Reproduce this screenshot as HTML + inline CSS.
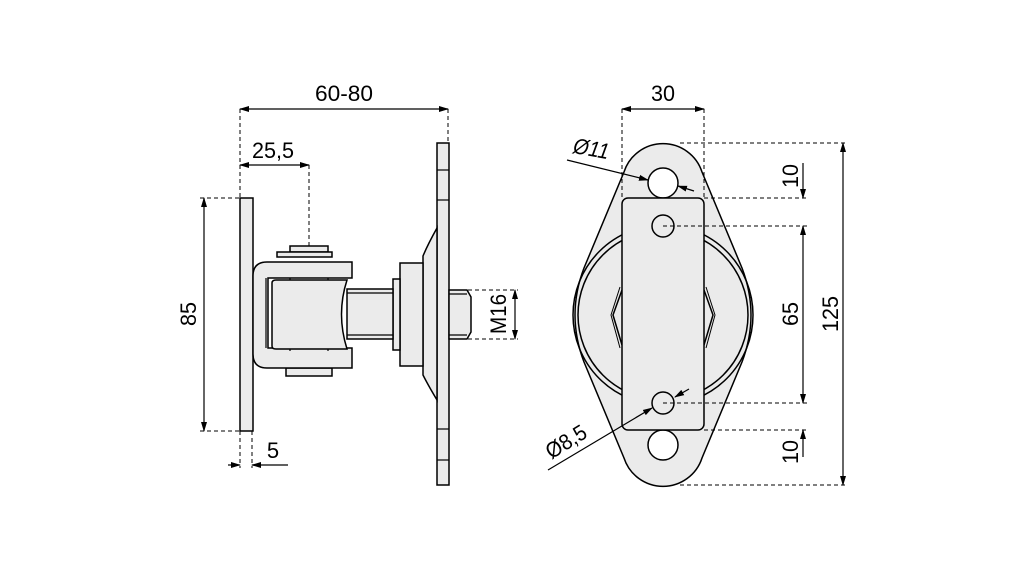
<!DOCTYPE html>
<html><head><style>html,body{margin:0;padding:0;background:#fff}svg{display:block}</style></head><body>
<svg width="1021" height="567" viewBox="0 0 1021 567" xmlns="http://www.w3.org/2000/svg">
<defs>
<marker id="a" markerWidth="10" markerHeight="8" refX="9" refY="4" orient="auto-start-reverse" markerUnits="userSpaceOnUse"><path d="M0,1 L10,4 L0,7 Z" fill="#000"/></marker>
</defs>
<g font-family="Liberation Sans, sans-serif" font-size="22" fill="#000">
<!-- LEFT VIEW -->
<g fill="#ebebeb" stroke="#000" stroke-width="1.5">
<rect x="240" y="198" width="13" height="233"/>
<rect x="437" y="143" width="12" height="342"/>
<path d="M423,256 Q428,244 437,228 L437,400 Q428,385 423,375 Z"/>
<rect x="400" y="263" width="23" height="103"/>
<rect x="393" y="279" width="7" height="71"/>
<rect x="347" y="289" width="46" height="50"/>
<path d="M449,290 L467,290 L471,297 L471,332 L467,339 L449,339 Z"/>
<rect x="290" y="246" width="38" height="6"/>
<rect x="277" y="252" width="55" height="5"/>
<rect x="286" y="368" width="46" height="8"/>
<path d="M253,276 Q253,262 267,262 L352,262 L352,278 L268,278 L268,348 L352,348 L352,368 L267,368 Q253,368 253,354 Z"/>
<path d="M272,283 Q272,280 276,280 L347,280 Q336,314 347,349 L276,349 Q272,349 272,346 Z"/>
</g>
<g stroke="#000" stroke-width="1.2" fill="none">
<line x1="437" y1="170" x2="449" y2="170"/><line x1="437" y1="200" x2="449" y2="200"/>
<line x1="437" y1="429" x2="449" y2="429"/><line x1="437" y1="460" x2="449" y2="460"/>
<line x1="266" y1="278" x2="266" y2="348"/>
<line x1="290" y1="278" x2="290" y2="280"/><line x1="328" y1="278" x2="328" y2="280"/>
<line x1="290" y1="349" x2="290" y2="351"/><line x1="328" y1="349" x2="328" y2="351"/>
<line x1="347" y1="293" x2="393" y2="293"/><line x1="347" y1="335" x2="393" y2="335"/>
<line x1="449" y1="294" x2="467" y2="294"/><line x1="449" y1="335" x2="467" y2="335"/>
</g>
<!-- left dims -->
<g stroke="#000" stroke-width="1" fill="none" stroke-dasharray="4,3">
<line x1="240" y1="109" x2="240" y2="198"/><line x1="448" y1="109" x2="448" y2="143"/>
<line x1="309" y1="165" x2="309" y2="246"/>
<line x1="200" y1="198" x2="240" y2="198"/><line x1="200" y1="431" x2="240" y2="431"/>
<line x1="240" y1="431" x2="240" y2="468"/><line x1="252" y1="431" x2="252" y2="468"/>
<line x1="468" y1="290" x2="518" y2="290"/><line x1="468" y1="339" x2="518" y2="339"/>
</g>
<g stroke="#000" stroke-width="1.2" fill="none">
<line x1="240" y1="109" x2="448" y2="109" marker-start="url(#a)" marker-end="url(#a)"/>
<line x1="240" y1="165" x2="309" y2="165" marker-start="url(#a)" marker-end="url(#a)"/>
<line x1="204" y1="198" x2="204" y2="431" marker-start="url(#a)" marker-end="url(#a)"/>
<line x1="515" y1="290" x2="515" y2="339" marker-start="url(#a)" marker-end="url(#a)"/>
<line x1="228" y1="465" x2="240" y2="465" marker-end="url(#a)"/>
<line x1="288" y1="465" x2="252" y2="465" marker-end="url(#a)"/>
</g>
<text x="344" y="101" text-anchor="middle" textLength="58" lengthAdjust="spacingAndGlyphs">60-80</text>
<text x="273" y="158" text-anchor="middle" textLength="42" lengthAdjust="spacingAndGlyphs">25,5</text>
<text x="273" y="458" text-anchor="middle">5</text>
<text transform="translate(196,314) rotate(-90)" text-anchor="middle" textLength="24" lengthAdjust="spacingAndGlyphs">85</text>
<text transform="translate(506,314) rotate(-90)" text-anchor="middle" textLength="40" lengthAdjust="spacingAndGlyphs">M16</text>

<!-- RIGHT VIEW -->
<g fill="#ebebeb" stroke="#000" stroke-width="1.5">
<path d="M624,172 A41 41 0 0 1 702,172 L742,268 Q760,315 742,362 L702,458 A41 41 0 0 1 624,458 L584,362 Q566,315 584,268 Z"/>
<circle cx="663" cy="315" r="90" fill="none"/>
<circle cx="663" cy="315" r="85" fill="none"/>
<path d="M622,290 L613,315 L622,345 M704,290 L713,315 L704,345" fill="none"/>
<path d="M620,287 L611,315 L620,348 M706,287 L715,315 L706,348" fill="none" stroke-width="1"/>
<circle cx="663" cy="183" r="15" fill="#fff"/>
<circle cx="663" cy="445" r="15" fill="#fff"/>
<rect x="622" y="198" width="82" height="232" rx="6"/>
<circle cx="663" cy="226" r="11"/>
<circle cx="663" cy="403" r="11"/>
</g>
<g stroke="#000" stroke-width="1" fill="none" stroke-dasharray="4,3">
<line x1="622" y1="109" x2="622" y2="198"/><line x1="704" y1="109" x2="704" y2="198"/>
<line x1="680" y1="143" x2="848" y2="143"/>
<line x1="704" y1="198" x2="808" y2="198"/>
<line x1="663" y1="226" x2="808" y2="226"/>
<line x1="663" y1="403" x2="808" y2="403"/>
<line x1="704" y1="430" x2="808" y2="430"/>
<line x1="680" y1="485" x2="848" y2="485"/>
</g>
<g stroke="#000" stroke-width="1.2" fill="none">
<line x1="622" y1="109" x2="704" y2="109" marker-start="url(#a)" marker-end="url(#a)"/>
<line x1="843" y1="143" x2="843" y2="485" marker-start="url(#a)" marker-end="url(#a)"/>
<line x1="803" y1="226" x2="803" y2="403" marker-start="url(#a)" marker-end="url(#a)"/>
<line x1="803" y1="163" x2="803" y2="198" marker-end="url(#a)"/>
<line x1="803" y1="457" x2="803" y2="430" marker-end="url(#a)"/>
<line x1="567" y1="160" x2="648" y2="180" marker-end="url(#a)"/>
<line x1="694" y1="191" x2="678" y2="186" marker-end="url(#a)"/>
<line x1="548" y1="470" x2="652" y2="408" marker-end="url(#a)"/>
<line x1="689" y1="389" x2="675" y2="397" marker-end="url(#a)"/>
</g>
<text x="663" y="101" text-anchor="middle" textLength="24" lengthAdjust="spacingAndGlyphs">30</text>
<text transform="translate(798,176) rotate(-90)" text-anchor="middle" textLength="24" lengthAdjust="spacingAndGlyphs">10</text>
<text transform="translate(798,452) rotate(-90)" text-anchor="middle" textLength="24" lengthAdjust="spacingAndGlyphs">10</text>
<text transform="translate(798,314) rotate(-90)" text-anchor="middle" textLength="24" lengthAdjust="spacingAndGlyphs">65</text>
<text transform="translate(838,314) rotate(-90)" text-anchor="middle" textLength="36" lengthAdjust="spacingAndGlyphs">125</text>
<text transform="translate(590,156) rotate(10)" text-anchor="middle" font-style="italic" textLength="36" lengthAdjust="spacingAndGlyphs">Ø11</text>
<text transform="translate(570,448) rotate(-32)" text-anchor="middle" textLength="44" lengthAdjust="spacingAndGlyphs">Ø8,5</text>
</g>
</svg>
</body></html>
